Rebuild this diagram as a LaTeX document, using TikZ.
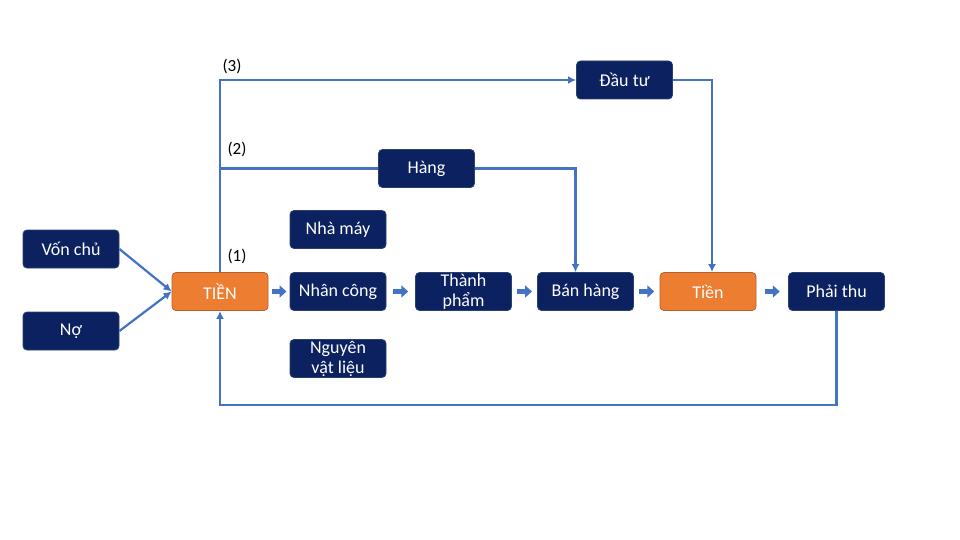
\documentclass[tikz,border=0pt]{standalone}
\usepackage{fontspec}
\setmainfont{Carlito}
\usetikzlibrary{calc,arrows.meta}
\definecolor{navy}{HTML}{0B2160}
\definecolor{navyline}{HTML}{2A4170}
\definecolor{orangebox}{HTML}{ED7D31}
\definecolor{orangeline}{HTML}{B6612A}
\definecolor{flowblue}{HTML}{4472C4}
\begin{document}
\begin{tikzpicture}[x=1pt,y=-1pt]
\tikzstyle{box}=[draw=navyline, fill=navy, text=white, rounded corners=4pt, line width=0.8pt,
  minimum width=96pt, minimum height=38pt, inner sep=1pt, align=center,
  font=\fontsize{18}{20}\selectfont]
\tikzstyle{cash}=[box, draw=orangeline, fill=orangebox]
\tikzstyle{link}=[draw=flowblue, line width=2.2pt, -{Latex[length=8pt,width=8pt]}]
\tikzstyle{plain}=[draw=flowblue, line width=2.2pt]
\tikzstyle{fat}=[draw=flowblue, line width=5pt, -{Triangle[length=7pt,width=12pt]}]
\tikzstyle{tag}=[font=\fontsize{17}{19}\selectfont, inner sep=0pt]
\newcommand{\blockarr}[2]{\draw [fat] ($(#1.east)!0.5!(#2.west)+(-7.5,0)$) -- ++(15,0);}
\useasboundingbox (0,0) rectangle (960,540);
% sources
\node [box] (von) at (71,249) {Vốn chủ};
\node [box] (no) at (71,331) {Nợ};
% main row
\node [cash] (tien) at (220,291.5) {TIỀN};
\node [box] (nhancong) at (338,291.5) {Nhân công};
\node [box] (nhamay) at (338,229.5) {Nhà máy};
\node [box] (nvl) at (338,358.5) {Nguyên\\vật liệu};
\node [box] (thanhpham) at (463.5,291.5) {Thành\\phẩm};
\node [box] (banhang) at (585.5,291.5) {Bán hàng};
\node [cash] (tien2) at (708,291.5) {Tiền};
\node [box] (phaithu) at (836.5,291.5) {Phải thu};
% uses of cash
\node [box] (hang) at (426.5,168.5) {Hàng};
\node [box] (dautu) at (624.5,80) {Đầu tư};
\node [tag] (lbl3) at (232,66) {(3)};
\node [tag] (lbl2) at (237,149) {(2)};
\node [tag] (lbl1) at (237,256) {(1)};
% connectors
\draw [link] (von.east) -- (tien.west);
\draw [link] (no.east) -- (tien.west);
\draw [link] (tien.north) -- (tien.north |- dautu.west) -- (dautu.west);
\draw [plain] (tien.north |- hang.west) -- (hang.west);
\draw [link] (hang.east) -| ([xshift=-10pt]banhang.north);
\draw [link] (dautu.east) -| ([xshift=4pt]tien2.north);
\draw [link] (phaithu.south) -- ++(0,94) -| (tien.south);
% block arrows
\blockarr{tien}{nhancong}
\blockarr{nhancong}{thanhpham}
\blockarr{thanhpham}{banhang}
\blockarr{banhang}{tien2}
\blockarr{tien2}{phaithu}
\end{tikzpicture}
\end{document}
